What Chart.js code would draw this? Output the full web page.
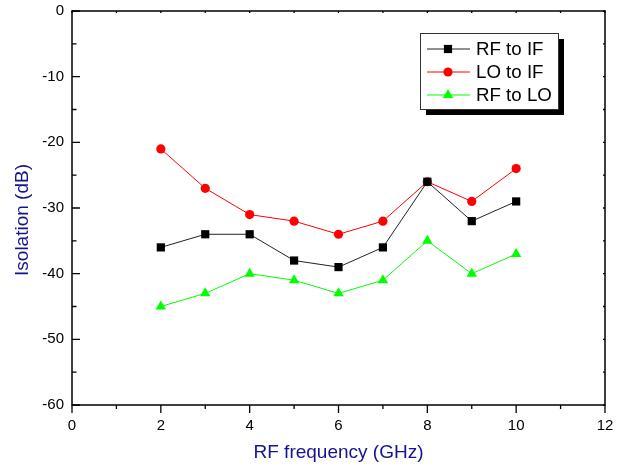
<!DOCTYPE html>
<html>
<head>
<meta charset="utf-8">
<script src="https://cdn.jsdelivr.net/npm/chart.js@4.4.1/dist/chart.umd.min.js"></script>
<style>
	html, body { margin: 0; padding: 0; background: #fff; }
	#caja { width: 621px; height: 467px; }
</style>
</head>
<body>
<div id="caja"><canvas id="grafica"></canvas></div>
<script>
// datos
var frecuencias = [2, 3, 4, 5, 6, 7, 8, 9, 10];
var rfToIf = [-36, -34, -34, -38, -39, -36, -26, -32, -29];
var loToIf = [-21, -27, -31, -32, -34, -32, -26, -29, -24];
var rfToLo = [-45, -43, -40, -41, -43, -41, -35, -40, -37];
var nombres = ['RF to IF', 'LO to IF', 'RF to LO'];
var tituloX = 'RF frequency (GHz)';
var tituloY = 'Isolation (dB)';

var fuente = 'Arial, "Liberation Sans", sans-serif';
var azul = '#14148c';

function puntos(valores) {
	var res = [];
	for (var i = 0; i < frecuencias.length; i++) {
		res.push({ x: frecuencias[i], y: valores[i] });
	}
	return res;
}

// marco con ticks (dentro a la izquierda, fuera abajo, pequeños arriba/derecha) y titulo Y
const marco = {
	id: 'marco',
	afterDraw(chart) {
		const ctx = chart.ctx;
		const a = chart.chartArea;
		const sx = chart.scales.x;
		const sy = chart.scales.y;
		ctx.save();
		ctx.strokeStyle = '#000';
		ctx.lineWidth = 1.5;
		ctx.strokeRect(a.left, a.top, a.right - a.left, a.bottom - a.top);
		ctx.lineWidth = 1.3;
		ctx.beginPath();
		for (var v = 0; v <= 12; v++) {
			var px = sx.getPixelForValue(v);
			var largo = (v % 2 == 0) ? 8 : 4;
			ctx.moveTo(px, a.bottom);
			ctx.lineTo(px, a.bottom + largo);
			ctx.moveTo(px, a.top);
			ctx.lineTo(px, a.top + 2);
		}
		for (var w = -60; w <= 0; w += 5) {
			var py = sy.getPixelForValue(w);
			var l2 = (w % 10 == 0) ? 8 : 4.5;
			ctx.moveTo(a.left, py);
			ctx.lineTo(a.left + l2, py);
			ctx.moveTo(a.right, py);
			ctx.lineTo(a.right - 2, py);
		}
		ctx.stroke();

		// titulo del eje Y (algo desplazado hacia abajo como en el original)
		ctx.translate(23, (a.top + a.bottom) / 2 + 12);
		ctx.rotate(-Math.PI / 2);
		ctx.fillStyle = azul;
		ctx.font = '19px ' + fuente;
		ctx.textAlign = 'center';
		ctx.textBaseline = 'middle';
		ctx.fillText(tituloY, 0, 0);
		ctx.restore();
	}
};

// leyenda con sombra
const leyenda = {
	id: 'leyenda',
	afterDraw(chart) {
		const ctx = chart.ctx;
		var x0 = 420, y0 = 33, an = 138, al = 76;
		ctx.save();
		ctx.fillStyle = '#000';
		ctx.fillRect(x0 + 6, y0 + 6, an, al);
		ctx.fillStyle = '#fff';
		ctx.fillRect(x0, y0, an, al);
		ctx.strokeStyle = '#333';
		ctx.lineWidth = 1;
		ctx.strokeRect(x0 + 0.5, y0 + 0.5, an, al);
		ctx.font = '18.7px ' + fuente;
		ctx.textBaseline = 'middle';
		chart.data.datasets.forEach(function(ds, i) {
			var yy = 49 + i * 23;
			ctx.strokeStyle = ds.borderColor;
			ctx.lineWidth = 1;
			ctx.beginPath();
			ctx.moveTo(427, yy);
			ctx.lineTo(470, yy);
			ctx.stroke();
			ctx.fillStyle = ds.pointBackgroundColor;
			ctx.strokeStyle = ds.pointBackgroundColor;
			Chart.helpers.drawPoint(ctx, { pointStyle: ds.pointStyle, radius: ds.pointRadius, borderWidth: 0 }, 448, yy);
			ctx.fillStyle = '#000';
			ctx.fillText(ds.label, 476, yy + 1);
		});
		ctx.restore();
	}
};

const data = {
	datasets: [{
		label: nombres[0],
		data: puntos(rfToIf),
		borderColor: '#222',
		pointBackgroundColor: '#000',
		pointBorderWidth: 0,
		pointStyle: 'rect',
		pointRadius: 5.8,
		borderWidth: 1
	}, {
		label: nombres[1],
		data: puntos(loToIf),
		borderColor: '#ff0000',
		pointBackgroundColor: '#ff0000',
		pointBorderWidth: 0,
		pointStyle: 'circle',
		pointRadius: 4.6,
		borderWidth: 1
	}, {
		label: nombres[2],
		data: puntos(rfToLo),
		borderColor: '#00ff00',
		pointBackgroundColor: '#00ff00',
		pointBorderWidth: 0,
		pointStyle: 'triangle',
		pointRadius: 6,
		borderWidth: 1
	}]
};

const config = {
	type: 'line',
	data: data,
	options: {
		responsive: false,
		animation: false,
		layout: { padding: { top: 11, right: 16, left: 0, bottom: 0 } },
		plugins: { legend: { display: false }, tooltip: { enabled: false } },
		scales: {
			x: {
				type: 'linear',
				min: 0,
				max: 12,
				grid: { display: false, drawTicks: false },
				border: { display: false },
				ticks: { stepSize: 2, padding: 12, color: '#000', font: { family: fuente, size: 15 } },
				title: { display: true, text: tituloX, color: azul, padding: { top: 0, bottom: 3 }, font: { family: fuente, size: 19 } },
				afterFit: function(s) { s.height = 62; s.paddingLeft = 0; s.paddingRight = 0; }
			},
			y: {
				min: -60,
				max: 0,
				grid: { display: false, drawTicks: false },
				border: { display: false },
				ticks: { stepSize: 10, padding: 8, color: '#000', font: { family: fuente, size: 15 } },
				title: { display: false },
				afterFit: function(s) { s.width = 72; s.paddingTop = 0; s.paddingBottom = 0; }
			}
		}
	},
	plugins: [marco, leyenda]
};

var lienzo = document.getElementById('grafica');
lienzo.width = 621;
lienzo.height = 467;
const myChart = new Chart(lienzo, config);
</script>
</body>
</html>
